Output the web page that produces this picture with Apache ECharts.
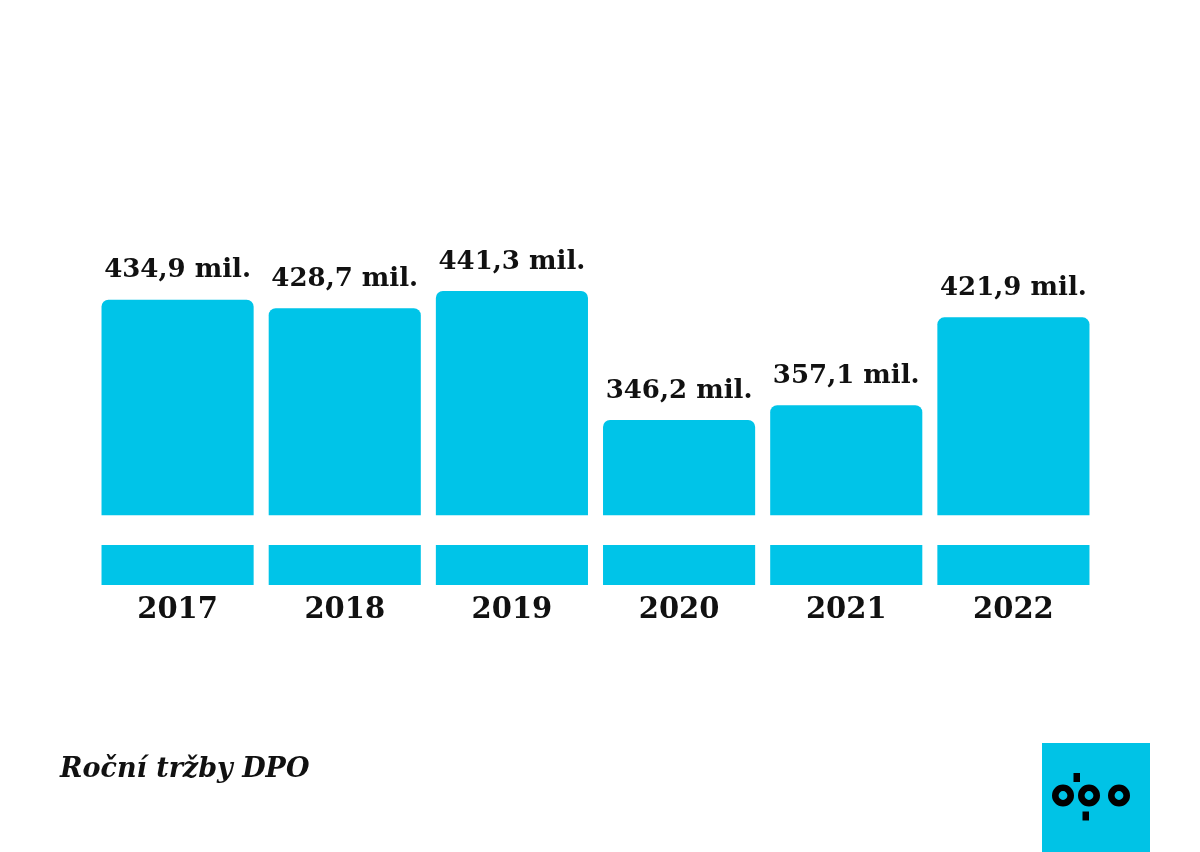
<!DOCTYPE html>
<html>
<head>
<meta charset="utf-8">
<script src="https://cdn.jsdelivr.net/npm/echarts@6/dist/echarts.min.js"></script>
<style>
html,body{margin:0;padding:0;background:#fff;}
#c{width:1200px;height:852px;}
</style>
</head>
<body>
<div id="c"></div>
<script>
// Data
var years = ['2017', '2018', '2019', '2020', '2021', '2022'];
var revenue = [434.9, 428.7, 441.3, 346.2, 357.1, 421.9]; // mil.
var titleText = 'Roční tržby DPO';

// Axis break (truncated axis) in value units
var axisMin = 224.5, axisMax = 580;
var breakLow = 254, breakHigh = 276;

var BAR = '#00C4E8';
var SERIF = '"DejaVu Serif", serif';

function fmt(v) { return v.toFixed(1).replace('.', ',') + ' mil.'; }

var chart = echarts.init(document.getElementById('c'), null, {renderer: 'canvas'});
chart.setOption({
  backgroundColor: '#ffffff',
  animation: false,
  title: {
    text: titleText,
    left: 55,
    top: 751,
    textStyle: {fontFamily: SERIF, fontWeight: 'bold', fontStyle: 'italic', fontSize: 27, color: '#111'}
  },
  grid: {left: 94, right: 103, top: 103, bottom: 267},
  xAxis: {
    type: 'category',
    data: years,
    axisLine: {show: false},
    axisTick: {show: false},
    axisLabel: {margin: 11, fontFamily: SERIF, fontWeight: 'bold', fontSize: 29, color: '#111'}
  },
  yAxis: {
    type: 'value', min: axisMin, max: axisMax, show: false,
    splitLine: {show: false}
  },
  series: [
    {
      type: 'bar', stack: 'r', barCategoryGap: '9%',
      data: revenue.map(function () { return breakLow; }),
      itemStyle: {color: BAR}
    },
    {
      type: 'bar', stack: 'r',
      data: revenue.map(function () { return breakHigh - breakLow; }),
      itemStyle: {color: 'rgba(0,0,0,0)'}
    },
    {
      type: 'bar', stack: 'r',
      data: revenue.map(function (v) { return +(v - breakHigh).toFixed(2); }),
      itemStyle: {color: BAR, borderRadius: [7, 7, 0, 0]},
      label: {
        show: true, position: 'top', distance: 16,
        fontFamily: SERIF, fontWeight: 'bold', fontSize: 26, color: '#111',
        formatter: function (p) { return fmt(revenue[p.dataIndex]); }
      }
    }
  ],
  graphic: [
    {type: 'rect', shape: {x: 1042, y: 743, width: 108, height: 109}, style: {fill: '#00C3E6'}},
    {type: 'ring', shape: {cx: 1063, cy: 795.5, r: 11, r0: 4.4}, style: {fill: '#000'}},
    {type: 'ring', shape: {cx: 1089, cy: 795.5, r: 11, r0: 4.4}, style: {fill: '#000'}},
    {type: 'ring', shape: {cx: 1119, cy: 795.5, r: 11, r0: 4.4}, style: {fill: '#000'}},
    {type: 'rect', shape: {x: 1073.5, y: 773, width: 6.5, height: 9}, style: {fill: '#000'}},
    {type: 'rect', shape: {x: 1082.5, y: 811.5, width: 6.5, height: 9}, style: {fill: '#000'}}
  ]
});
</script>
</body>
</html>
